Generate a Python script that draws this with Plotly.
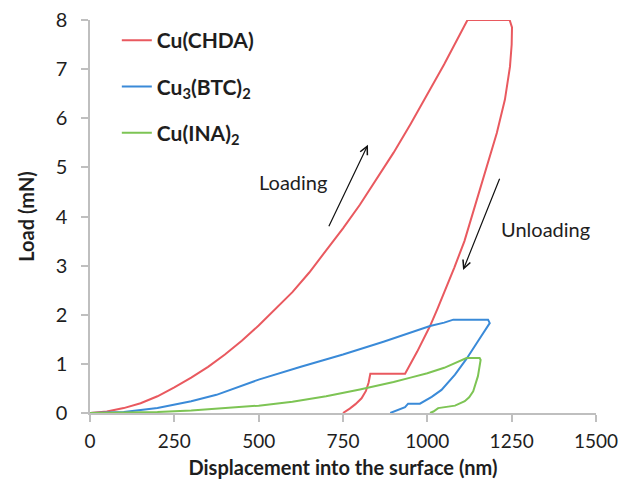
import plotly.graph_objects as go

# ---- data ----
chda_x = [0, 50, 100, 150, 200, 250, 300, 350, 400, 450, 500, 550, 600, 650, 700, 750, 800, 850, 900, 950,
          1000, 1050, 1119,
          1244, 1251, 1250, 1245, 1230, 1206, 1181, 1147, 1110, 1080, 1054, 1030, 1008, 970, 934,
          831, 826, 818, 805, 787, 770, 750]
chda_y = [0, 0.03, 0.1, 0.2, 0.34, 0.52, 0.72, 0.94, 1.19, 1.47, 1.78, 2.11, 2.46, 2.86, 3.3, 3.76, 4.24, 4.76, 5.3, 5.88,
          6.48, 7.1, 8.0,
          8.0, 7.85, 7.5, 7.05, 6.38, 5.7, 5.12, 4.34, 3.5, 2.96, 2.51, 2.12, 1.77, 1.25, 0.8,
          0.8, 0.62, 0.45, 0.3, 0.18, 0.09, 0]

btc_x = [0, 100, 200, 250, 300, 375, 500, 625, 750, 870, 973, 1008, 1050, 1077,
         1180, 1185, 1150, 1116, 1082, 1042, 1013, 978, 943, 934, 890]
btc_y = [0, 0.02, 0.1, 0.17, 0.24, 0.37, 0.68, 0.94, 1.19, 1.45, 1.7, 1.77, 1.84, 1.9,
         1.9, 1.83, 1.46, 1.1, 0.78, 0.47, 0.33, 0.19, 0.19, 0.12, 0]

ina_x = [0, 100, 200, 300, 400, 500, 600, 700, 800, 850, 900, 950, 1000, 1050, 1116,
         1155, 1158, 1150, 1143, 1136, 1124, 1111, 1082, 1042, 1032, 1018, 1008]
ina_y = [0, 0.005, 0.02, 0.05, 0.1, 0.15, 0.23, 0.34, 0.48, 0.55, 0.63, 0.72, 0.81, 0.92, 1.12,
         1.12, 1.08, 0.75, 0.58, 0.44, 0.32, 0.24, 0.15, 0.11, 0.1, 0.03, 0]

names = ["<b>Cu(CHDA)</b>", "<b>Cu<sub>3</sub>(BTC)<sub>2</sub></b>", "<b>Cu(INA)<sub>2</sub></b>"]
colors = ["#E9595F", "#3A8AD8", "#7DC454"]

x_ticks = [0, 250, 500, 750, 1000, 1250, 1500]
y_ticks = [0, 1, 2, 3, 4, 5, 6, 7, 8]

FONT = "Lato, 'Open Sans', sans-serif"
AX = "#BFBFBF"
TXT = "#1E1E1E"

fig = go.Figure()
for i, (xs, ys) in enumerate([(chda_x, chda_y), (btc_x, btc_y), (ina_x, ina_y)]):
    fig.add_trace(go.Scatter(x=xs, y=ys, mode="lines", name=names[i],
                             line=dict(color=colors[i], width=2),
                             legendgroup=str(i), cliponaxis=False))

fig.update_layout(
    width=621, height=487,
    margin=dict(l=90, r=25, t=20, b=74),
    plot_bgcolor="white", paper_bgcolor="white",
    font=dict(family=FONT, size=19, color=TXT),
    showlegend=True,
    legend=dict(x=0.053, y=1.0, xanchor="left", yanchor="top",
                font=dict(size=21, color=TXT),
                tracegroupgap=16, bgcolor="rgba(0,0,0,0)", itemwidth=30),
    xaxis=dict(range=[0, 1500], tickvals=x_ticks, showgrid=False, zeroline=False,
               showline=True, linecolor=AX, linewidth=1.5, automargin=False,
               ticks="outside", ticklen=7, tickcolor=AX, tickwidth=1.5,
               tickfont=dict(size=19), ticklabelstandoff=3, ticklabeloverflow="allow",
               title=dict(text="<b>Displacement into the surface (nm)</b>", font=dict(size=20), standoff=10)),
    yaxis=dict(range=[0, 8], tickvals=y_ticks, showgrid=False, zeroline=False,
               showline=True, linecolor=AX, linewidth=1.5, automargin=False,
               ticks="outside", ticklen=7, tickcolor=AX, tickwidth=1.5,
               tickfont=dict(size=20), ticklabelstandoff=10, ticklabeloverflow="allow",
               title=dict(text="<b>Load (mN)</b>", font=dict(size=20), standoff=16)),
)

# annotations: labels and arrows
fig.add_annotation(x=824, y=5.46, ax=706, ay=3.77, xref="x", yref="y", axref="x", ayref="y",
                   showarrow=True, arrowhead=5, arrowsize=1.3, arrowwidth=1.2, arrowcolor="#111111", text="")
fig.add_annotation(x=1106, y=2.91, ax=1216, ay=4.8, xref="x", yref="y", axref="x", ayref="y",
                   showarrow=True, arrowhead=5, arrowsize=1.3, arrowwidth=1.2, arrowcolor="#111111", text="")
fig.add_annotation(x=603, y=4.7, text="Loading", showarrow=False, font=dict(size=20, color=TXT))
fig.add_annotation(x=1350, y=3.75, text="Unloading", showarrow=False, font=dict(size=20, color=TXT))

fig.write_html("out.html")
